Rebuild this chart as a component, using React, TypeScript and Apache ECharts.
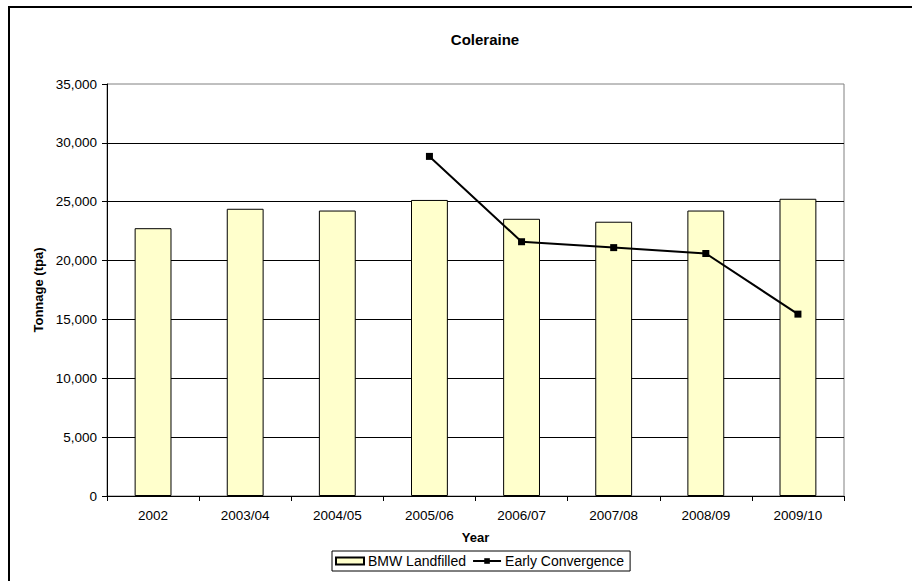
import React, { useEffect, useRef } from "react";
import * as echarts from "echarts";

// Financial years on the category axis
const years = ["2002", "2003/04", "2004/05", "2005/06", "2006/07", "2007/08", "2008/09", "2009/10"];
// Biodegradable municipal waste sent to landfill (tonnes per annum)
const bmwLandfilled = [22750, 24400, 24250, 25150, 23550, 23300, 24250, 25250];
// Early convergence target (starts in 2005/06)
const earlyConvergence = [null, null, null, 28850, 21600, 21100, 20600, 15450];

const yTicks = { min: 0, max: 35000, interval: 5000 };

const FONT = "'Liberation Sans', Arial, sans-serif";

export default function App() {
  const ref = useRef<HTMLDivElement>(null);

  useEffect(() => {
    if (!ref.current) return;
    const chart = echarts.init(ref.current, null, { renderer: "svg" });
    chart.setOption({
      animation: false,
      backgroundColor: "#ffffff",
      textStyle: { fontFamily: FONT, color: "#000" },
      graphic: [
        {
          type: "rect",
          shape: { x: 9, y: 7, width: 1200, height: 1000 },
          style: { fill: "none", stroke: "#000", lineWidth: 2 },
          silent: true,
        },
      ],
      title: {
        text: "Coleraine",
        left: 485,
        top: 32,
        padding: 0,
        textAlign: "center",
        textStyle: { fontFamily: FONT, fontSize: 15, fontWeight: "bold", color: "#000" },
      },
      legend: {
        left: 332,
        top: 551,
        orient: "horizontal",
        itemWidth: 28,
        itemHeight: 7,
        itemGap: 6,
        padding: [3, 6, 3, 3],
        borderColor: "#000",
        borderWidth: 1,
        textStyle: { fontFamily: FONT, fontSize: 14, color: "#000", padding: [0, 0, 0, -1] },
        data: [
          { name: "BMW Landfilled", icon: "rect" },
          { name: "Early Convergence" },
        ],
      },
      grid: {
        left: 107,
        top: 84,
        width: 737,
        height: 412,
        show: true,
        borderColor: "#808080",
        borderWidth: 1,
        backgroundColor: "#ffffff",
      },
      xAxis: {
        type: "category",
        data: years,
        name: "Year",
        nameLocation: "middle",
        nameGap: 35,
        nameTextStyle: { fontFamily: FONT, fontSize: 13, fontWeight: "bold", color: "#000", verticalAlign: "top" },
        axisLine: { lineStyle: { color: "#000", width: 1 } },
        axisTick: { show: true, length: 5, alignWithLabel: false, lineStyle: { color: "#000" } },
        axisLabel: { fontFamily: FONT, fontSize: 13.5, color: "#000", margin: 12 },
        splitLine: { show: false },
      },
      yAxis: {
        type: "value",
        min: yTicks.min,
        max: yTicks.max,
        interval: yTicks.interval,
        name: "Tonnage (tpa)",
        nameLocation: "middle",
        nameGap: 60,
        nameTextStyle: { fontFamily: FONT, fontSize: 13, fontWeight: "bold", color: "#000" },
        axisLine: { show: true, lineStyle: { color: "#000", width: 1 } },
        axisTick: { show: true, length: 5, lineStyle: { color: "#000" } },
        axisLabel: {
          fontFamily: FONT,
          fontSize: 13.5,
          color: "#000",
          margin: 10,
          formatter: (v: number) => v.toLocaleString("en-US"),
        },
        splitLine: { show: true, showMinLine: false, showMaxLine: false, lineStyle: { color: "#000", width: 1 } },
      },
      series: [
        {
          name: "BMW Landfilled",
          type: "bar",
          data: bmwLandfilled,
          barWidth: "40%",
          itemStyle: { color: "#FFFFCC", borderColor: "#000", borderWidth: 1 },
        },
        {
          name: "Early Convergence",
          type: "line",
          data: earlyConvergence,
          symbol: "rect",
          symbolSize: 7,
          connectNulls: false,
          lineStyle: { color: "#000", width: 2 },
          itemStyle: { color: "#000" },
        },
      ],
    });
    return () => chart.dispose();
  }, []);

  return (
    <div
      ref={ref}
      style={{ position: "fixed", left: 0, top: 0, width: 912, height: 581 }}
    />
  );
}
